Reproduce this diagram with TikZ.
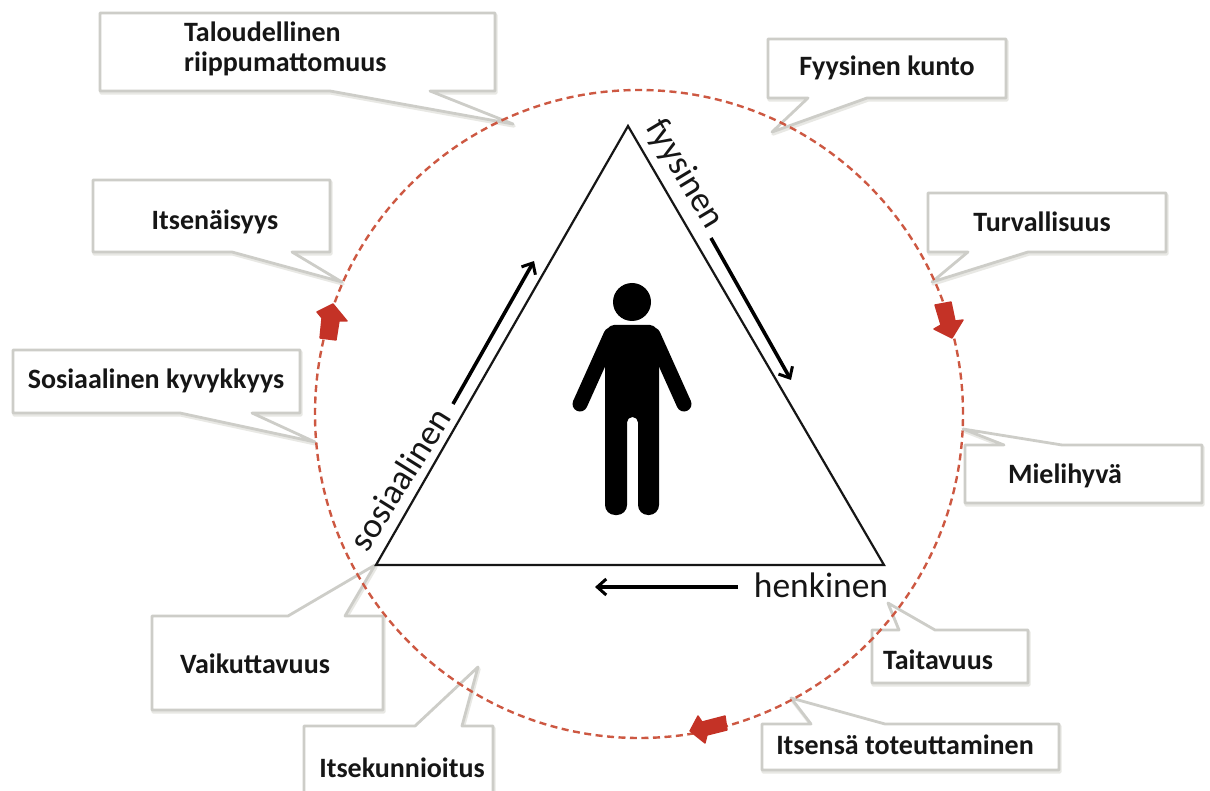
\documentclass[tikz,border=0pt]{standalone}
\usepackage{fontspec}
\setmainfont{Carlito}
\definecolor{redline}{RGB}{205,88,66}
\definecolor{redarrow}{RGB}{196,50,38}
\definecolor{boxedge}{RGB}{205,205,200}
\definecolor{boxshade}{RGB}{232,232,228}
\definecolor{ink}{RGB}{22,22,22}
\tikzset{
  shade layer/.style={draw=boxshade,line width=3.4pt,line join=round,shift={(1pt,-2pt)}},
  callout/.style={draw=boxedge,fill=white,line width=2.8pt,line join=round},
  lab/.style={font=\fontsize{28}{30}\selectfont\bfseries,text=ink,inner sep=0pt,align=left},
  side/.style={font=\fontsize{35.5}{38}\selectfont,text=ink,inner sep=0pt},
  tri/.style={draw=ink,line width=2.2pt,line join=miter},
  flow/.style={draw=black,line width=3.6pt,-{Straight Barb[length=9pt,width=16pt,line width=3pt]}},
  redhead/.style={fill=redarrow,draw=redarrow,line width=1.4pt,line join=round},
  ring/.style={draw=redline,line width=2.4pt,dash pattern=on 7pt off 4.5pt}
}
\usetikzlibrary{arrows.meta}
\newcommand{\bubble}[1]{\path[shade layer] #1; \path[callout] #1;}
\begin{document}
\begin{tikzpicture}[x=1pt,y=-1pt]
\useasboundingbox (0,0) rectangle (1210,791);
\clip (0,0) rectangle (1210,791);
\fill[white] (0,0) rectangle (1210,791);
% callouts
\bubble{(100,13) -- (495,13) -- (495,91) -- (430,91) -- (513,124) -- (330,91) -- (100,91) -- cycle}
\bubble{(93,180) -- (330,180) -- (330,252) -- (292,252) -- (342,282) -- (232,252) -- (93,252) -- cycle}
\bubble{(768,39) -- (1006,39) -- (1006,98) -- (867,98) -- (772,132) -- (808,98) -- (768,98) -- cycle}
\bubble{(928,193) -- (1166,193) -- (1166,252) -- (1028,252) -- (932,282) -- (968,252) -- (928,252) -- cycle}
\bubble{(13,350) -- (300,350) -- (300,413) -- (252,413) -- (315,442) -- (180,413) -- (13,413) -- cycle}
\bubble{(152,616) -- (288,616) -- (375,565) -- (345,616) -- (383,616) -- (383,710) -- (152,710) -- cycle}
\bubble{(965,445) -- (1004,445) -- (963,429) -- (1062,445) -- (1202,445) -- (1202,503) -- (965,503) -- cycle}
\bubble{(872,630) -- (899,630) -- (888,603) -- (935,630) -- (1028,630) -- (1028,683) -- (872,683) -- cycle}
\bubble{(762,724) -- (811,724) -- (791,698) -- (885,724) -- (1059,724) -- (1059,770) -- (762,770) -- cycle}
\bubble{(304,726) -- (415,726) -- (478,667) -- (462,726) -- (493,726) -- (493,810) -- (304,810) -- cycle}
% texts
\node[lab,anchor=west] (t1) at (184,49) {Taloudellinen\\riippumattomuus};
\node[lab] (t2) at (215,222) {Itsenäisyys};
\node[lab] (t3) at (887,68) {Fyysinen kunto};
\node[lab] (t4) at (1042,222) {Turvallisuus};
\node[lab] (t5) at (156,381) {Sosiaalinen kyvykkyys};
\node[lab] (t6) at (255,664) {Vaikuttavuus};
\node[lab] (t7) at (1065,476) {Mielihyvä};
\node[lab] (t8) at (938,660) {Taitavuus};
\node[lab] (t9) at (905,745) {Itsensä toteuttaminen};
\node[lab] (t10) at (402,768) {Itsekunnioitus};
% ring
\coordinate (ringc) at (639,414);
\draw[ring] (ringc) circle[radius=324pt];
% red arrows
\fill[redhead] (333,304) -- (347,321) -- (339,321) -- (336,340) -- (320,338) -- (322,318) -- (317,312) -- cycle;
\fill[redhead] (935,305) -- (951,302) -- (955,321) -- (963,320) -- (952,338) -- (934,329) -- (941,325) -- cycle;
\fill[redhead] (690,731) -- (698,716) -- (702,722) -- (725,716) -- (727,730) -- (707,735) -- (705,743) -- cycle;
% triangle
\coordinate (top) at (628,126);
\coordinate (left) at (376,565);
\coordinate (right) at (884,565);
\draw[tri] (top) -- (right) -- (left) -- cycle;
% labels on triangle
\node[side,rotate=-59] (fy) at (684,174) {fyysinen};
\node[side,rotate=58] (so) at (400,479) {sosiaalinen};
\node[side] (he) at (821,585) {henkinen};
% flow arrows
\coordinate (a1) at (711,238); \coordinate (a2) at (791,380);
\coordinate (b1) at (738,587); \coordinate (b2) at (595,587);
\coordinate (c1) at (453,404); \coordinate (c2) at (534,261);
\draw[flow] (a1) -- (a2);
\draw[flow] (b1) -- (b2);
\draw[flow] (c1) -- (c2);
% person
\fill[black] (632,302) circle[radius=19pt];
\fill[black] [rounded corners=4pt] (605,420) -- (605,333) -- (610,325) -- (654,325) -- (659,333) -- (659,420)
  [rounded corners=10pt] -- (659,515) -- (638,515) -- (638,470)
  [rounded corners=5.4pt] -- (638,417) -- (627,417) -- (627,470)
  [rounded corners=10pt] -- (627,515) -- (605,515) -- cycle;
\draw[black,line width=15pt,line cap=round] (611,335) -- (580,404);
\draw[black,line width=15pt,line cap=round] (653,335) -- (684,404);
\end{tikzpicture}
\end{document}
